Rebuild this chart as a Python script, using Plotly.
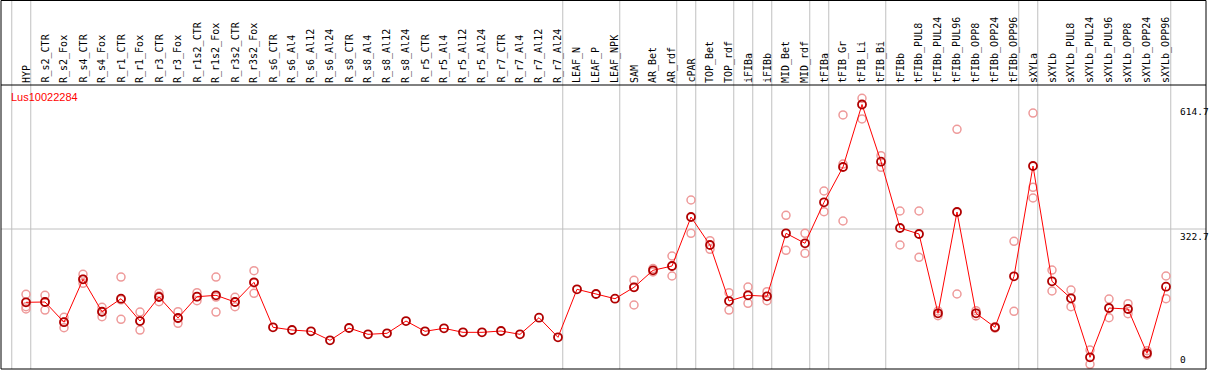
import plotly.graph_objects as go

categories = [
    "HYP", "R_s2_CTR", "R_s2_Fox", "R_s4_CTR", "R_s4_Fox", "R_r1_CTR", "R_r1_Fox",
    "R_r3_CTR", "R_r3_Fox", "R_r1s2_CTR", "R_r1s2_Fox", "R_r3s2_CTR", "R_r3s2_Fox",
    "R_s6_CTR", "R_s6_Al4", "R_s6_Al12", "R_s6_Al24", "R_s8_CTR", "R_s8_Al4",
    "R_s8_Al12", "R_s8_Al24", "R_r5_CTR", "R_r5_Al4", "R_r5_Al12", "R_r5_Al24",
    "R_r7_CTR", "R_r7_Al4", "R_r7_Al12", "R_r7_Al24", "LEAF_N", "LEAF_P", "LEAF_NPK",
    "SAM", "AR_Bet", "AR_rdf", "cPAR", "TOP_Bet", "TOP_rdf", "iFIBa", "iFIBb",
    "MID_Bet", "MID_rdf", "tFIBa", "tFIB_Gr", "tFIB_Li", "tFIB_Bi", "tFIBb",
    "tFIBb_PUL8", "tFIBb_PUL24", "tFIBb_PUL96", "tFIBb_OPP8", "tFIBb_OPP24",
    "tFIBb_OPP96", "sXYLa", "sXYLb", "sXYLb_PUL8", "sXYLb_PUL24", "sXYLb_PUL96",
    "sXYLb_OPP8", "sXYLb_OPP24", "sXYLb_OPP96",
]

mean_values = [
    150.8, 151.5, 104.1, 204.7, 128.7, 159.2, 106.9,
    163.2, 114.0, 163.9, 167.2, 151.5, 197.7,
    92.2, 85.8, 82.8, 61.7, 90.5, 75.7,
    78.1, 106.9, 82.8, 89.8, 80.4, 80.4,
    83.5, 75.7, 114.7, 68.7, 181.3, 170.3, 159.2,
    186.0, 225.8, 235.9, 350.8, 285.2, 153.8, 167.2, 164.9,
    312.6, 289.2, 385.3, 468.1, 614.7, 480.5, 325.0,
    311.0, 125.0, 362.6, 125.0, 92.2,
    211.8, 470.4, 200.0, 160.2, 21.8, 137.4,
    135.1, 31.2, 187.4,
]

replicate_values = [
    [169.6, 140.5, 135.1], [167.2, 151.5, 132.7], [115.6, 104.6, 91.2],
    [216.5, 204.7, 195.4], [139.1, 128.7, 117.0], [210.1, 156.7, 110.9],
    [128.0, 106.9, 85.8], [171.9, 165.6, 152.2], [128.7, 112.8, 101.5],
    [173.3, 163.9, 154.5], [210.1, 163.2, 128.0], [162.5, 151.5, 140.5],
    [224.9, 196.1, 171.9],
    [], [], [], [], [], [], [], [], [], [], [], [], [], [], [], [],
    [], [], [],
    [202.4, 186.0, 144.5], [230.1, 221.9], [259.4, 235.9, 212.5],
    [390.7, 312.6], [295.3, 275.1], [173.3, 132.7], [186.7, 148.4],
    [175.7, 154.5], [354.8, 272.7], [312.6, 265.7], [411.8, 363.3],
    [590.1, 475.1, 341.5], [629.2, 580.7], [494.6, 467.4], [364.9, 285.2],
    [364.9, 256.3], [130.4, 119.4], [556.5, 170.3], [131.1, 118.7],
    [93.6, 90.5], [293.9, 129.7], [594.7, 420.5, 395.4], [226.5, 177.3],
    [179.6, 140.5], [38.9, 5.4], [158.5, 114.7], [147.5, 124.1],
    [37.3, 27.2], [212.5, 159.2],
]

# index of the last category of each group (separator drawn after it)
group_ends = [-1, 0, 28, 31, 34, 35, 37, 38, 39, 41, 42, 45, 52, 53, 60]
y_tick_values = [0, 322.7, 614.7]
y_tick_labels = ["0", "322.7", "614.7"]
grid_values = [322.7]
gene_name = "Lus10022284"

x_idx = list(range(len(categories)))
rep_x, rep_y = [], []
for i, reps in enumerate(replicate_values):
    for v in reps:
        rep_x.append(i)
        rep_y.append(v)

fig = go.Figure()
fig.add_trace(go.Scatter(
    x=rep_x, y=rep_y, mode="markers",
    marker=dict(symbol="circle-open", size=8, color="#ee9a9a", line=dict(width=1.5)),
    hoverinfo="skip", showlegend=False,
))
fig.add_trace(go.Scatter(
    x=x_idx, y=mean_values, mode="lines+markers",
    line=dict(color="#ff0000", width=1),
    marker=dict(symbol="circle-open", size=8, color="#b00000", line=dict(width=1.8)),
    text=categories, showlegend=False,
))

H_TOP = 85
PLOT_H = 284
top_paper = 1 + (H_TOP - 0.5) / PLOT_H

shapes = []
for g in group_ends:
    shapes.append(dict(type="line", xref="x", yref="paper", x0=g + 0.25, x1=g + 0.25,
                       y0=0, y1=top_paper, line=dict(color="#c0c0c0", width=1), layer="below"))
for gv in grid_values:
    shapes.append(dict(type="line", xref="paper", yref="y", x0=0, x1=1, y0=gv, y1=gv,
                       line=dict(color="#c0c0c0", width=1), layer="below"))
# frame
shapes.append(dict(type="rect", xref="paper", yref="paper", x0=0, x1=1, y0=0, y1=top_paper,
                   line=dict(color="black", width=1)))
shapes.append(dict(type="line", xref="paper", yref="paper", x0=0, x1=1, y0=1, y1=1,
                   line=dict(color="black", width=1)))

annotations = []
for i, c in enumerate(categories):
    annotations.append(dict(x=i, y=1, xref="x", yref="paper", text=c, textangle=-90,
                            showarrow=False, xanchor="center", yanchor="bottom", yshift=0,
                            font=dict(family="DejaVu Sans Mono", size=10, color="black")))
label_x = (1178 - 1) / 1205
for v, t in zip(y_tick_values, y_tick_labels):
    annotations.append(dict(x=label_x, y=v, xref="paper", yref="y", text=t, showarrow=False,
                            xanchor="left", yanchor="bottom" if v == 0 else "top",
                            font=dict(family="DejaVu Sans Mono", size=9.5, color="black")))
annotations.append(dict(x=(9 - 1) / 1205, y=1, xref="paper", yref="paper", text=gene_name,
                        showarrow=False, xanchor="left", yanchor="top", yshift=-4,
                        font=dict(family="Liberation Sans", size=11, color="#ff0000")))

fig.update_layout(
    width=1209, height=370,
    margin=dict(l=1, r=3, t=H_TOP, b=1, pad=0),
    paper_bgcolor="white", plot_bgcolor="white",
    xaxis=dict(range=[-1.316, 62.105], showgrid=False, zeroline=False, showticklabels=False,
               showline=False, fixedrange=True),
    yaxis=dict(range=[-5.6, 660.4], showgrid=False, zeroline=False, showticklabels=False,
               showline=False, fixedrange=True),
    shapes=shapes, annotations=annotations, showlegend=False,
)

fig.write_html("out.html", config={"displayModeBar": False},
               post_script="document.body.style.margin='0';document.body.style.overflow='hidden';")
